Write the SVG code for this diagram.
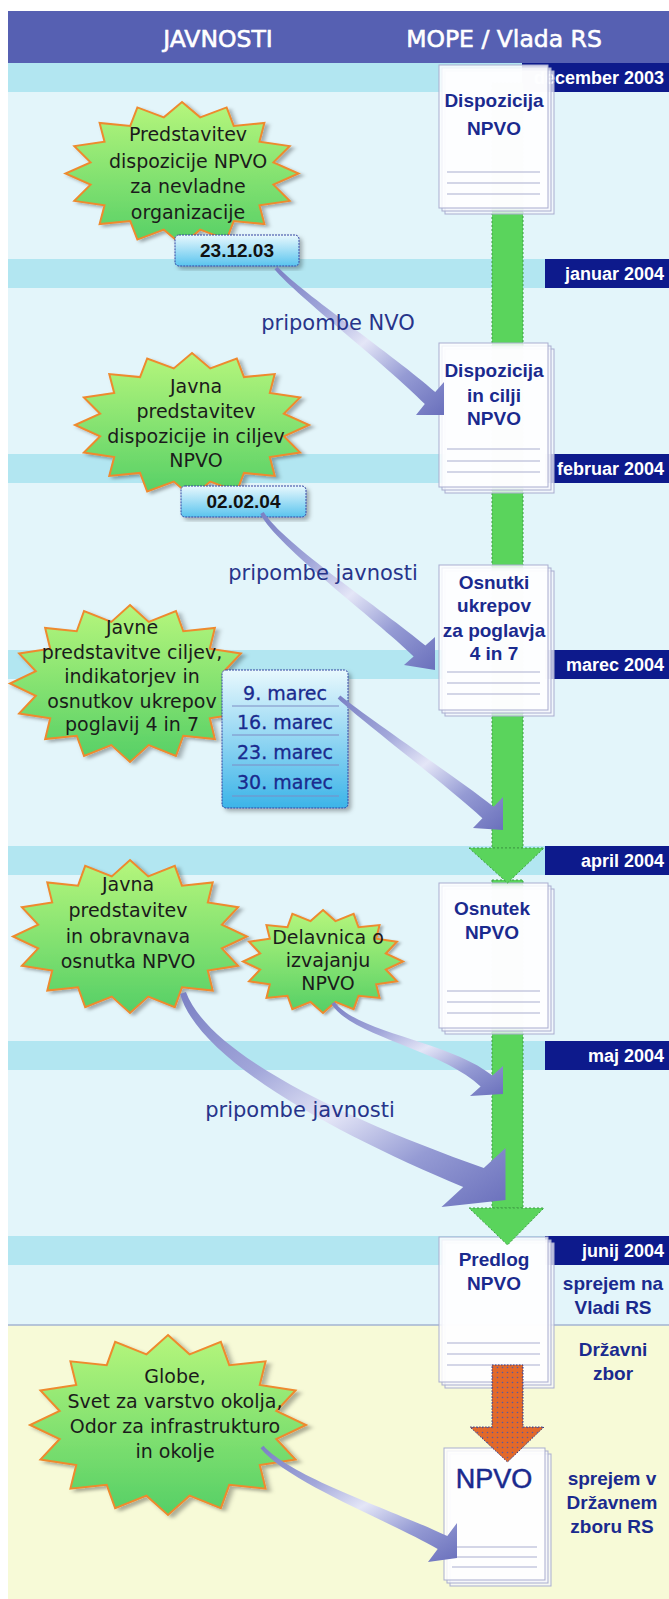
<svg xmlns="http://www.w3.org/2000/svg" width="669" height="1599" viewBox="0 0 669 1599">
<defs>
<style>
.hdr{font-family:"DejaVu Sans",sans-serif;font-size:23.5px;fill:#fff;stroke:#fff;stroke-width:0.6;text-anchor:middle}
.date{font-family:"Liberation Sans",Arial,sans-serif;font-weight:bold;font-size:18px;fill:#fff;text-anchor:end}
.doc{font-family:"Liberation Sans",Arial,sans-serif;font-weight:bold;font-size:19px;fill:#1a2a8e;text-anchor:middle}
.big{font-family:"Liberation Sans",Arial,sans-serif;font-size:27px;fill:#1a2a8e;stroke:#1a2a8e;stroke-width:0.5;text-anchor:middle}
.st{font-family:"DejaVu Sans",sans-serif;font-size:19px;fill:#1b1b1b;text-anchor:middle}
.lbl{font-family:"DejaVu Sans",sans-serif;font-size:21px;fill:#27348a;text-anchor:middle}
.dbx{font-family:"Liberation Sans",Arial,sans-serif;font-weight:bold;font-size:19px;fill:#111;text-anchor:middle}
.mar{font-family:"DejaVu Sans",sans-serif;font-size:19px;fill:#1a2a8e;stroke:#1a2a8e;stroke-width:0.3;text-anchor:middle}
.page{fill:#f6f7fc;fill-opacity:.75;stroke:#a9adcf;stroke-width:1}
.top{fill:#fff;fill-opacity:.82;stroke:#a9adcf;stroke-width:1}
.rule{stroke:#a9adcf;stroke-width:1.2}
.band{fill:#b2e6f1}
.dlab{fill:#0d1a8c}
.star{fill:url(#gStar);stroke:#ee8a2e;stroke-width:2;filter:url(#sh)}
.arr{fill:url(#gArr)}
.green{fill:#5ad45c;stroke:#3f9f45;stroke-width:1;stroke-dasharray:2 2}
</style>
<linearGradient id="gStar" x1="0" y1="0" x2="0" y2="1">
<stop offset="0" stop-color="#b6f67c"/><stop offset="1" stop-color="#55cf66"/>
</linearGradient>
<linearGradient id="gBox" x1="0" y1="0" x2="0" y2="1">
<stop offset="0" stop-color="#e8f8fd"/><stop offset="1" stop-color="#5ac4ee"/>
</linearGradient>
<linearGradient id="gList" x1="0" y1="0" x2="0" y2="1">
<stop offset="0" stop-color="#e8f8fd"/><stop offset="1" stop-color="#3cb4e8"/>
</linearGradient>
<linearGradient id="gArr" x1="0" y1="0" x2="1" y2="1">
<stop offset="0" stop-color="#7a80c4"/><stop offset="0.3" stop-color="#a2a7da"/><stop offset="0.52" stop-color="#e4e6f7"/><stop offset="0.75" stop-color="#959bd4"/><stop offset="1" stop-color="#6a70bc"/>
</linearGradient>
<pattern id="dots" width="5" height="5" patternUnits="userSpaceOnUse">
<rect width="5" height="5" fill="#e2692a"/><circle cx="2.5" cy="2.5" r="0.8" fill="#5a5aa0"/>
</pattern>
<filter id="sh" x="-10%" y="-10%" width="125%" height="125%">
<feDropShadow dx="3" dy="3" stdDeviation="2" flood-color="#000" flood-opacity="0.3"/>
</filter>
<path id="starP" vector-effect="non-scaling-stroke" d="M0,-100 L15.6,-78.5 L38.3,-92.4 L44.4,-66.5 L70.7,-70.7 L66.5,-44.4 L92.4,-38.3 L78.5,-15.6 L100,0 L78.5,15.6 L92.4,38.3 L66.5,44.4 L70.7,70.7 L44.4,66.5 L38.3,92.4 L15.6,78.5 L0,100 L-15.6,78.5 L-38.3,92.4 L-44.4,66.5 L-70.7,70.7 L-66.5,44.4 L-92.4,38.3 L-78.5,15.6 L-100,0 L-78.5,-15.6 L-92.4,-38.3 L-66.5,-44.4 L-70.7,-70.7 L-44.4,-66.5 L-38.3,-92.4 L-15.6,-78.5 Z"/>
</defs>

<rect width="669" height="1599" fill="#fff"/>
<g id="background">
<rect x="8" y="63" width="661" height="1262" fill="#e3f5fa"/>
<rect x="8" y="1325" width="661" height="274" fill="#f7fad7"/>
<line x1="8" y1="1325" x2="669" y2="1325" stroke="#a3b3d2" stroke-width="1.5"/>
<rect class="band" x="8" y="63" width="661" height="29"/>
<rect class="band" x="8" y="259" width="661" height="29"/>
<rect class="band" x="8" y="454" width="661" height="29"/>
<rect class="band" x="8" y="650" width="661" height="29"/>
<rect class="band" x="8" y="846" width="661" height="29"/>
<rect class="band" x="8" y="1041" width="661" height="29"/>
<rect class="band" x="8" y="1236" width="661" height="29"/>
</g>

<g id="header">
<rect x="8" y="11" width="661" height="52" fill="#5660b2"/>
<text class="hdr" x="218" y="47">JAVNOSTI</text>
<text class="hdr" x="504" y="47">MOPE / Vlada RS</text>
</g>

<g id="dates">
<rect class="dlab" x="522" y="63" width="147" height="29"/>
<text class="date" x="664" y="84">december 2003</text>
<rect class="dlab" x="545" y="259" width="124" height="29"/>
<text class="date" x="664" y="280">januar 2004</text>
<rect class="dlab" x="545" y="454" width="124" height="29"/>
<text class="date" x="664" y="475">februar 2004</text>
<rect class="dlab" x="545" y="650" width="124" height="29"/>
<text class="date" x="664" y="671">marec 2004</text>
<rect class="dlab" x="545" y="846" width="124" height="29"/>
<text class="date" x="664" y="867">april 2004</text>
<rect class="dlab" x="545" y="1041" width="124" height="29"/>
<text class="date" x="664" y="1062">maj 2004</text>
<rect class="dlab" x="545" y="1236" width="124" height="29"/>
<text class="date" x="664" y="1257">junij 2004</text>
</g>

<g id="timeline-bar">
<rect class="green" x="492" y="83" width="31" height="765"/>
<rect class="green" x="492" y="880" width="31" height="328"/>
</g>

<g id="star1">
<use href="#starP" class="star" transform="translate(182,173.5) scale(1.165,0.715)"/>
<text class="st" x="188" y="141">Predstavitev</text>
<text class="st" x="188" y="168">dispozicije NPVO</text>
<text class="st" x="188" y="193">za nevladne</text>
<text class="st" x="188" y="219">organizacije</text>
</g>
<g id="date1">
<rect x="175" y="235" width="124" height="31" rx="4" fill="url(#gBox)" stroke="#3040a0" stroke-dasharray="2 1" filter="url(#sh)"/>
<text class="dbx" x="237" y="257">23.12.03</text>
</g>

<g id="star2">
<use href="#starP" class="star" transform="translate(192,425) scale(1.17,0.72)"/>
<text class="st" x="196" y="393">Javna</text>
<text class="st" x="196" y="418">predstavitev</text>
<text class="st" x="196" y="443">dispozicije in ciljev</text>
<text class="st" x="196" y="467">NPVO</text>
</g>
<g id="date2">
<rect x="181" y="486" width="125" height="31" rx="4" fill="url(#gBox)" stroke="#3040a0" stroke-dasharray="2 1" filter="url(#sh)"/>
<text class="dbx" x="243.5" y="508">02.02.04</text>
</g>

<g id="star3">
<use href="#starP" class="star" transform="translate(130,683.5) scale(1.2,0.785)"/>
<text class="st" x="132" y="634" font-size="18">Javne</text>
<text class="st" x="132" y="659" font-size="18">predstavitve ciljev,</text>
<text class="st" x="132" y="683" font-size="18">indikatorjev in</text>
<text class="st" x="132" y="708" font-size="18">osnutkov ukrepov</text>
<text class="st" x="132" y="731" font-size="18">poglavij 4 in 7</text>
</g>
<g id="marec-list">
<rect x="222" y="670" width="126" height="138" rx="4" fill="url(#gList)" stroke="#3040a0" stroke-dasharray="2 1" filter="url(#sh)"/>
<text class="mar" x="285" y="700">9. marec</text>
<text class="mar" x="285" y="729">16. marec</text>
<text class="mar" x="285" y="759">23. marec</text>
<text class="mar" x="285" y="789">30. marec</text>
<g stroke="#7f8cc4" stroke-width="1">
<line x1="232" y1="706" x2="339" y2="706"/>
<line x1="232" y1="735" x2="339" y2="735"/>
<line x1="232" y1="765" x2="339" y2="765"/>
<line x1="232" y1="796" x2="339" y2="796"/>
</g>
</g>

<g id="star4">
<use href="#starP" class="star" transform="translate(130,936.5) scale(1.17,0.765)"/>
<text class="st" x="128" y="891">Javna</text>
<text class="st" x="128" y="917">predstavitev</text>
<text class="st" x="128" y="943">in obravnava</text>
<text class="st" x="128" y="968">osnutka NPVO</text>
</g>
<g id="star5">
<use href="#starP" class="star" transform="translate(323,961.5) scale(0.8,0.515)"/>
<text class="st" x="328" y="944" font-size="17">Delavnica o</text>
<text class="st" x="328" y="967" font-size="17">izvajanju</text>
<text class="st" x="328" y="990" font-size="17">NPVO</text>
</g>

<g id="star6">
<use href="#starP" class="star" transform="translate(168,1425) scale(1.38,0.9)"/>
<text class="st" x="175" y="1383">Globe,</text>
<text class="st" x="175" y="1408">Svet za varstvo okolja,</text>
<text class="st" x="175" y="1433">Odor za infrastrukturo</text>
<text class="st" x="175" y="1458">in okolje</text>
</g>

<g id="doc1">
<rect class="page" x="445" y="71" width="109" height="143"/>
<rect class="page" x="442" y="68" width="109" height="143"/>
<rect class="top" x="439" y="65" width="109" height="143"/>
<g class="rule"><line x1="447" y1="172" x2="540" y2="172"/><line x1="447" y1="183" x2="540" y2="183"/><line x1="447" y1="194" x2="540" y2="194"/></g>
<text class="doc" x="494" y="107">Dispozicija</text>
<text class="doc" x="494" y="135">NPVO</text>
</g>
<g id="doc2">
<rect class="page" x="445" y="349" width="109" height="144"/>
<rect class="page" x="442" y="346" width="109" height="144"/>
<rect class="top" x="439" y="343" width="109" height="144"/>
<g class="rule"><line x1="447" y1="449" x2="540" y2="449"/><line x1="447" y1="461" x2="540" y2="461"/><line x1="447" y1="472" x2="540" y2="472"/></g>
<text class="doc" x="494" y="377">Dispozicija</text>
<text class="doc" x="494" y="402">in cilji</text>
<text class="doc" x="494" y="425">NPVO</text>
</g>
<g id="doc3">
<rect class="page" x="445" y="571" width="109" height="145"/>
<rect class="page" x="442" y="568" width="109" height="145"/>
<rect class="top" x="439" y="565" width="109" height="145"/>
<g class="rule"><line x1="447" y1="672" x2="540" y2="672"/><line x1="447" y1="683" x2="540" y2="683"/><line x1="447" y1="694" x2="540" y2="694"/></g>
<text class="doc" x="494" y="589">Osnutki</text>
<text class="doc" x="494" y="612">ukrepov</text>
<text class="doc" x="494" y="637">za poglavja</text>
<text class="doc" x="494" y="660">4 in 7</text>
</g>
<g id="doc4">
<rect class="page" x="445" y="889" width="109" height="145"/>
<rect class="page" x="442" y="886" width="109" height="145"/>
<rect class="top" x="439" y="883" width="109" height="145"/>
<g class="rule"><line x1="447" y1="991" x2="540" y2="991"/><line x1="447" y1="1002" x2="540" y2="1002"/><line x1="447" y1="1013" x2="540" y2="1013"/></g>
<text class="doc" x="492" y="915">Osnutek</text>
<text class="doc" x="492" y="939">NPVO</text>
</g>
<g id="doc5">
<rect class="page" x="445" y="1243" width="109" height="145"/>
<rect class="page" x="442" y="1240" width="109" height="145"/>
<rect class="top" x="439" y="1237" width="109" height="145"/>
<g class="rule"><line x1="447" y1="1343" x2="540" y2="1343"/><line x1="447" y1="1354" x2="540" y2="1354"/><line x1="447" y1="1365" x2="540" y2="1365"/></g>
<text class="doc" x="494" y="1266">Predlog</text>
<text class="doc" x="494" y="1290">NPVO</text>
</g>
<g id="doc6">
<rect class="page" x="450" y="1454" width="101" height="132"/>
<rect class="page" x="447" y="1451" width="101" height="132"/>
<rect class="top" x="444" y="1448" width="101" height="132" fill-opacity="1"/>
<g class="rule"><line x1="452" y1="1547" x2="537" y2="1547"/><line x1="452" y1="1557" x2="537" y2="1557"/><line x1="452" y1="1567" x2="537" y2="1567"/></g>
<text class="big" x="494" y="1488">NPVO</text>
</g>

<g id="connectors">
<polygon class="green" points="469,848 544,848 507.5,883"/>
<polygon class="green" points="469,1208 544,1208 507.5,1245"/>
<path d="M492,1365 H523 V1427 H544 L507.5,1462 L470,1427 H492 Z" fill="url(#dots)" stroke="#3a3a80" stroke-width="1" stroke-dasharray="1.5 1.5"/>
<path class="arr" d="M277.5,266.7 C302.2,293 393.9,355.4 435.2,391.9 L444,382 L444,415 L416,415 L424.8,404.1 C386.1,364.6 297.8,297 274.5,269.3 Z"/>
<path class="arr" d="M263.7,512 C282.6,543.5 384.5,611 425.4,645.6 L435,637 L435,670 L404,665 L413.6,656.4 C375.5,619 277.4,546.5 260.3,514 Z"/>
<path class="arr" d="M340.3,695.5 C367,717.8 454.2,775.7 493.6,806.7 L503,797 L503,830 L473,828 L482.4,818.3 C445.8,784.3 363,722.2 337.7,698.5 Z"/>
<path class="arr" d="M334.6,1001.9 C357.5,1033.3 449.4,1041 492.4,1075.6 L503,1066 L503,1094 L470,1096 L480.6,1086.4 C440.6,1049 352.5,1036.7 331.4,1004.1 Z"/>
<path class="arr" d="M185.9,992 C210.7,1058.1 357.4,1123.2 483.8,1168 L505.5,1148 L505.5,1200 L441.5,1207 L463.2,1187 C342.6,1136.8 199.3,1061.9 180.1,994 Z"/>
<path class="arr" d="M263.5,1445.7 C292.3,1478 393.6,1510.2 447.3,1536.1 L457,1523 L457,1558 L428,1562 L437.7,1548.9 C386.4,1519.8 287.7,1482 260.5,1448.3 Z"/>
<text class="lbl" x="338" y="330">pripombe NVO</text>
<text class="lbl" x="323" y="580">pripombe javnosti</text>
<text class="lbl" x="300" y="1117">pripombe javnosti</text>
</g>

<g id="side-labels">
<text class="doc" x="613" y="1290">sprejem na</text>
<text class="doc" x="613" y="1314">Vladi RS</text>
<text class="doc" x="613" y="1356">Državni</text>
<text class="doc" x="613" y="1380">zbor</text>
<text class="doc" x="612" y="1485">sprejem v</text>
<text class="doc" x="612" y="1509">Državnem</text>
<text class="doc" x="612" y="1533">zboru RS</text>
</g>
</svg>
